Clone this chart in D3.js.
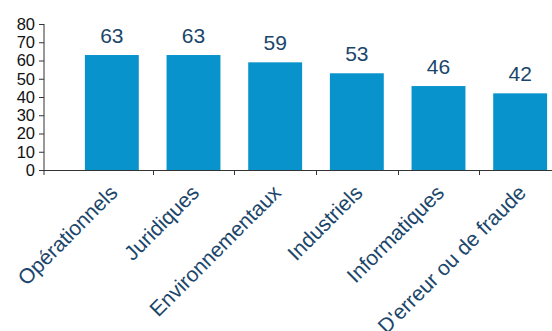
<!DOCTYPE html>
<html>
<head>
<meta charset="utf-8">
<script src="https://cdn.jsdelivr.net/npm/d3@7"></script>
<style>
  html, body { margin: 0; padding: 0; background: #fff; }
  svg { display: block; }
  text { font-family: "Liberation Sans", Arial, Helvetica, sans-serif; }
</style>
</head>
<body>
<svg id="chart" width="552" height="331"></svg>
<script>
const categories = ["Opérationnels", "Juridiques", "Environnementaux", "Industriels", "Informatiques", "D'erreur ou de fraude"];
const values = [63, 63, 59, 53, 46, 42];
const yTicks = [0, 10, 20, 30, 40, 50, 60, 70, 80];

const svg = d3.select("#chart");
const W = 552, H = 331;
const axisX = 44, y0 = 170, yTop = 24;

const x = d3.scaleBand().domain(categories).range([71, 561]).paddingInner(0.34).paddingOuter(0.17);
const y = d3.scaleLinear().domain([0, 80]).range([y0, yTop]);

const barColor = "#0993cc";
const textBlue = "#1b466b";
const axisColor = "#333";

// bars
svg.selectAll("rect.bar").data(values).join("rect")
  .attr("class", "bar")
  .attr("x", (d, i) => x(categories[i]))
  .attr("y", d => y(d))
  .attr("width", x.bandwidth())
  .attr("height", d => y(0) - y(d))
  .attr("fill", barColor);

// value labels
svg.selectAll("text.val").data(values).join("text")
  .attr("class", "val")
  .attr("x", (d, i) => x(categories[i]) + x.bandwidth() / 2)
  .attr("y", d => y(d) - 12)
  .attr("text-anchor", "middle")
  .attr("font-size", 21)
  .attr("fill", textBlue)
  .text(d => d);

// y axis
const yAxis = d3.axisLeft(y).tickValues(yTicks).tickSize(5).tickPadding(4);
const gy = svg.append("g").attr("transform", `translate(${axisX},0)`).call(yAxis);
gy.select(".domain").remove();
gy.selectAll(".tick line").attr("stroke", axisColor);
gy.selectAll(".tick text").attr("font-size", 16.5).attr("fill", "#111")
  .attr("font-family", "Liberation Sans, Arial, sans-serif");
svg.append("line").attr("x1", axisX).attr("x2", axisX).attr("y1", yTop).attr("y2", y0 + 5)
  .attr("stroke", axisColor).attr("stroke-width", 1);

// x axis line
svg.append("line").attr("x1", axisX).attr("x2", W).attr("y1", y0 + 0.5).attr("y2", y0 + 0.5)
  .attr("stroke", axisColor).attr("stroke-width", 1);

// x ticks at band boundaries
const step = x.step();
svg.selectAll("line.xt").data(categories.slice(1)).join("line")
  .attr("class", "xt")
  .attr("x1", d => Math.round(x(d) - step * x.paddingInner() / 2) + 0.5)
  .attr("x2", d => Math.round(x(d) - step * x.paddingInner() / 2) + 0.5)
  .attr("y1", y0).attr("y2", y0 + 5)
  .attr("stroke", axisColor);

// category labels
svg.selectAll("text.cat").data(categories).join("text")
  .attr("class", "cat")
  .attr("text-anchor", "end")
  .attr("font-size", 21)
  .attr("fill", textBlue)
  .attr("transform", d => `translate(${x(d) + x.bandwidth() / 2 + 7},194) rotate(-45)`)
  .text(d => d);
</script>
</body>
</html>
